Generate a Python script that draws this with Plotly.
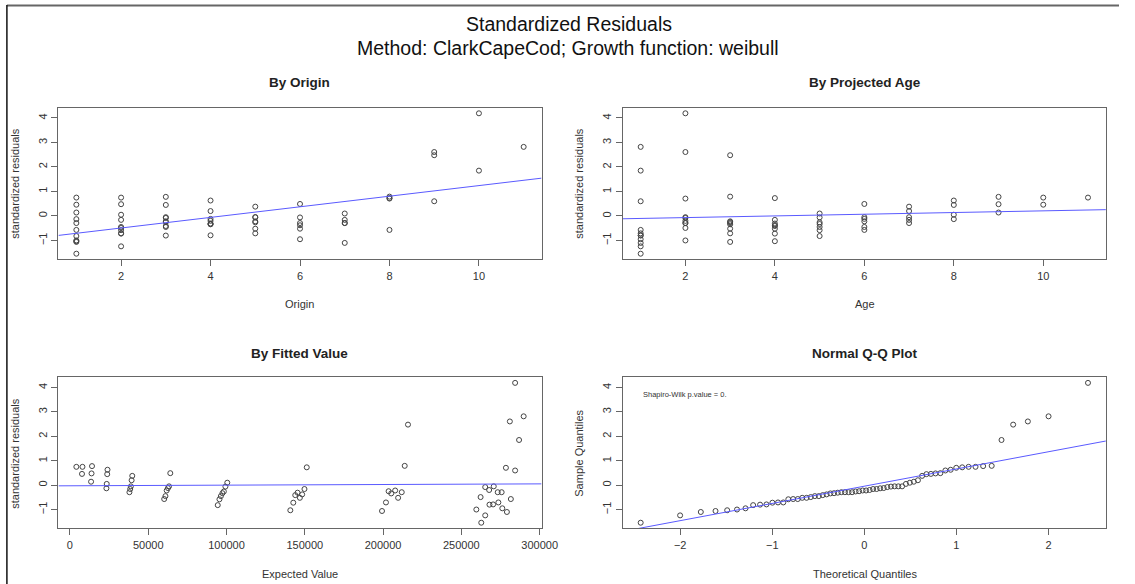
import numpy as np
import plotly.graph_objects as go
from statistics import NormalDist

# Standardized residuals, one list per origin period (ages 1..n)
res_1 = [-1.54, -1.00, -1.06, -1.03, -0.82, -0.57, -0.29, -0.13, 0.14, 0.46, 0.75]
res_2 = [-1.24, -0.49, -0.71, -0.72, -0.58, -0.45, -0.16, 0.05, 0.48, 0.75]
res_3 = [-0.80, -0.08, -0.25, -0.41, -0.45, -0.22, -0.05, 0.45, 0.78]
res_4 = [-0.79, -0.20, -0.34, -0.31, -0.33, -0.12, 0.20, 0.63]
res_5 = [-0.71, -0.05, -0.22, -0.52, -0.26, -0.05, 0.38]
res_6 = [-0.95, -0.29, -0.52, -0.38, -0.06, 0.49]
res_7 = [-1.10, -0.29, -0.29, -0.16, 0.10]
res_8 = [-0.57, 0.71, 0.79, 0.73]
res_9 = [0.60, 2.61, 2.48]
res_10 = [1.85, 4.19]
res_11 = [2.82]

# Expected (fitted) incremental values, same layout
fit_1 = [262710, 259560, 199320, 140760, 94400, 60200, 38000, 23300, 13500, 7700, 4100]
fit_2 = [265230, 262290, 201840, 142650, 95500, 61000, 38500, 23500, 13800, 8000]
fit_3 = [267960, 265230, 203520, 143910, 96400, 61800, 38900, 23800, 14100]
fit_4 = [270270, 267750, 205200, 145380, 97400, 62600, 39400, 24000]
fit_5 = [273630, 270690, 207720, 146850, 98300, 63300, 39800]
fit_6 = [276150, 273210, 209610, 148320, 99300, 64100]
fit_7 = [279080, 275730, 211920, 149790, 100500]
fit_8 = [281600, 278450, 213810, 151260]
fit_9 = [284330, 280970, 215910]
fit_10 = [286850, 284330]
fit_11 = [289790]

res_rows = [res_1, res_2, res_3, res_4, res_5, res_6, res_7, res_8, res_9, res_10, res_11]
fit_rows = [fit_1, fit_2, fit_3, fit_4, fit_5, fit_6, fit_7, fit_8, fit_9, fit_10, fit_11]

origin, age, resid, fitted = [], [], [], []
for i, (rr, ff) in enumerate(zip(res_rows, fit_rows)):
    for j, (r, f) in enumerate(zip(rr, ff)):
        origin.append(i + 1)
        age.append(j + 1)
        resid.append(r)
        fitted.append(f)
origin = np.array(origin, float)
age = np.array(age, float)
resid = np.array(resid, float)
fitted = np.array(fitted, float)

# Q-Q
n = len(resid)
nd = NormalDist()
theo = np.array([nd.inv_cdf((i - 0.5) / n) for i in range(1, n + 1)])
sample = np.sort(resid)
q1, q3 = np.quantile(resid, [0.25, 0.75])
t1, t3 = nd.inv_cdf(0.25), nd.inv_cdf(0.75)
qq_slope = (q3 - q1) / (t3 - t1)
qq_int = q1 - qq_slope * t1


def pad(lo, hi, f=0.04):
    d = (hi - lo) * f
    return [lo - d, hi + d]


yr = pad(resid.min(), resid.max())
xr_o = pad(origin.min(), origin.max())
xr_a = pad(age.min(), age.max())
xr_f = pad(fitted.min(), fitted.max())
xr_q = pad(theo.min(), theo.max())

W, H = 1135, 584
FONT = "Liberation Sans, Arial, sans-serif"
PT = "#444444"
LINE = "rgb(90,90,255)"
BOX = "#666666"

fig = go.Figure()


def add_points(x, y, ax):
    fig.add_trace(go.Scatter(x=x, y=y, mode="markers", xaxis="x" + ax, yaxis="y" + ax,
                             marker=dict(symbol="circle-open", size=5, color=PT, line=dict(width=1, color=PT)),
                             showlegend=False, hoverinfo="x+y"))


def add_line(xr, slope, intercept, ax):
    xs = np.array(xr)
    fig.add_trace(go.Scatter(x=xs, y=intercept + slope * xs, mode="lines", xaxis="x" + ax, yaxis="y" + ax,
                             line=dict(color=LINE, width=1), showlegend=False, hoverinfo="skip"))


b1, a1 = np.polyfit(origin, resid, 1)
b2, a2 = np.polyfit(age, resid, 1)
b3, a3 = np.polyfit(fitted, resid, 1)

add_points(origin, resid, "")
add_line(xr_o, b1, a1, "")
add_points(age, resid, "2")
add_line(xr_a, b2, a2, "2")
add_points(fitted, resid, "3")
add_line(xr_f, b3, a3, "3")
add_points(theo, sample, "4")
add_line(xr_q, qq_slope, qq_int, "4")

px = lambda v: v / W
py = lambda v: 1 - v / H

dom_x_l = [px(59.3), px(549.3)]
dom_x_r = [px(631.7), px(1121.7)]
dom_y_t = [py(259.3), py(107.7)]
dom_y_b = [py(528.3), py(377.3)]


def xax(domain, rng, ticks, anchor, labels=None):
    d = dict(domain=domain, range=rng, tickvals=ticks, anchor=anchor, ticks="outside", ticklen=6,
             tickcolor=BOX, tickwidth=1, showline=True, linecolor=BOX, linewidth=1, mirror=True,
             showgrid=False, zeroline=False, tickfont=dict(size=11, color="#333333", family=FONT))
    if labels is not None:
        d["ticktext"] = labels
    return d


def yax(domain, rng, anchor):
    return dict(domain=domain, range=rng, tickvals=[-1, 0, 1, 2, 3, 4], anchor=anchor, ticks="outside",
                ticklen=6, tickcolor=BOX, tickwidth=1, showline=True, linecolor=BOX, linewidth=1,
                mirror=True, showgrid=False, zeroline=False, tickangle=-90,
                tickfont=dict(size=11, color="#333333", family=FONT))


fit_ticks = [0, 50000, 100000, 150000, 200000, 250000, 300000]

fig.update_layout(
    width=W, height=H, margin=dict(l=0, r=0, t=0, b=0),
    paper_bgcolor="white", plot_bgcolor="white",
    font=dict(family=FONT, color="#222222"),
    xaxis=xax(dom_x_l, xr_o, [2, 4, 6, 8, 10], "y"),
    yaxis=yax(dom_y_t, yr, "x"),
    xaxis2=xax(dom_x_r, xr_a, [2, 4, 6, 8, 10], "y2"),
    yaxis2=yax(dom_y_t, yr, "x2"),
    xaxis3=xax(dom_x_l, xr_f, fit_ticks, "y3", [str(v) for v in fit_ticks]),
    yaxis3=yax(dom_y_b, yr, "x3"),
    xaxis4=xax(dom_x_r, xr_q, [-2, -1, 0, 1, 2], "y4"),
    yaxis4=yax(dom_y_b, yr, "x4"),
)

ann = []


def text(x, y, s, size, bold=False, angle=0, color="#222222", xanchor="center"):
    ann.append(dict(x=px(x), y=py(y), xref="paper", yref="paper", text=("<b>%s</b>" % s) if bold else s,
                    showarrow=False, textangle=angle, xanchor=xanchor, yanchor="middle",
                    font=dict(size=size, color=color, family=FONT)))


text(577, 24, "Standardized Residuals", 19.5, color="#111111")
text(576, 48, "Method: ClarkCapeCod; Growth function: weibull", 19.5, color="#111111")
text(304, 83, "By Origin", 13.5, bold=True)
text(877, 83, "By Projected Age", 13.5, bold=True)
text(304, 353, "By Fitted Value", 13.5, bold=True)
text(877, 353, "Normal Q-Q Plot", 13.5, bold=True)
text(304, 304, "Origin", 11, color="#333333")
text(877, 304, "Age", 11, color="#333333")
text(304, 574, "Expected Value", 11, color="#333333")
text(877, 574, "Theoretical Quantiles", 11, color="#333333")
text(15, 183, "standardized residuals", 11, angle=-90, color="#333333")
text(587, 183, "standardized residuals", 11, angle=-90, color="#333333")
text(15, 453, "standardized residuals", 11, angle=-90, color="#333333")
text(587, 453, "Sample Quantiles", 11, angle=-90, color="#333333")
text(650, 394, "Shapiro-Wilk p.value = 0.", 7.5, color="#333333", xanchor="left")
fig.update_layout(annotations=ann)

fig.update_layout(shapes=[
    dict(type="line", xref="paper", yref="paper", x0=px(7), x1=1, y0=py(5.5), y1=py(5.5),
         line=dict(color="#666666", width=2)),
    dict(type="line", xref="paper", yref="paper", x0=px(7), x1=px(7), y0=0, y1=py(5),
         line=dict(color="#111111", width=1.5)),
])

fig.write_html("out.html")
